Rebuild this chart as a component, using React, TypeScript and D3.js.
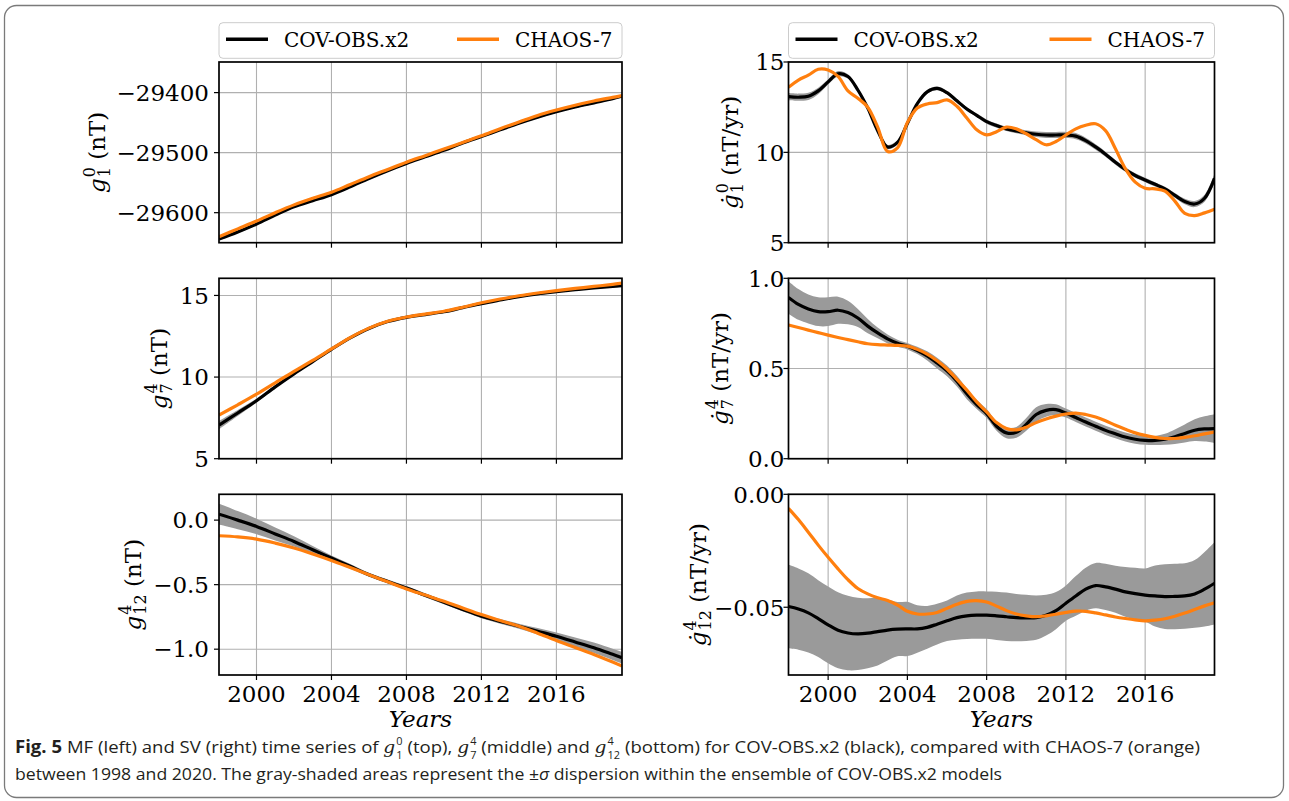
import React from "react";
import * as d3 from "d3";

// ---------- data ----------
const yearsA = [1998, 1999, 2000, 2001, 2002, 2003, 2004, 2005, 2006, 2007, 2008, 2009, 2010, 2011, 2012, 2013, 2014, 2015, 2016, 2017, 2018, 2019, 2019.5];
const yearsB = [
  1998, 1998.5, 1999, 1999.5, 2000, 2000.5, 2001, 2001.5, 2002, 2002.5, 2003, 2003.5,
  2004, 2004.5, 2005, 2005.5, 2006, 2006.5, 2007, 2007.5, 2008, 2008.5, 2009, 2009.5,
  2010, 2010.5, 2011, 2011.5, 2012, 2012.5, 2013, 2013.5, 2014, 2014.5, 2015, 2015.5,
  2016, 2016.5, 2017, 2017.5, 2018, 2018.5, 2019, 2019.5,
];

// MF g10 (nT)
const mf10Cov = [-29644, -29632, -29619, -29604, -29590, -29580, -29570, -29557, -29543, -29530, -29518, -29507, -29496, -29484, -29473, -29462, -29451, -29441, -29432, -29424, -29417, -29410, -29406];
const mf10Sd = [2.2, 2, 1.8, 1.6, 1.5, 1.5, 1.5, 1.5, 1.5, 1.5, 1.5, 1.5, 1.5, 1.5, 1.5, 1.5, 1.5, 1.5, 1.5, 1.6, 1.8, 2, 2.2];
const mf10Chaos = [-29640, -29627, -29614, -29600, -29587, -29576, -29566, -29553, -29540, -29528, -29516, -29505, -29494, -29483, -29472, -29460, -29449, -29438, -29429, -29421, -29414, -29408, -29405];

// MF g74 (nT)
const mf74Cov = [7.06, 7.8, 8.55, 9.4, 10.2, 10.95, 11.7, 12.4, 12.98, 13.4, 13.66, 13.83, 14.0, 14.25, 14.5, 14.72, 14.93, 15.1, 15.23, 15.35, 15.46, 15.55, 15.6];
const mf74Sd = [0.25, 0.18, 0.12, 0.08, 0.06, 0.05, 0.05, 0.05, 0.05, 0.05, 0.05, 0.05, 0.05, 0.05, 0.05, 0.05, 0.05, 0.05, 0.05, 0.05, 0.05, 0.06, 0.06];
const mf74Chaos = [7.67, 8.3, 8.95, 9.65, 10.35, 11.02, 11.72, 12.42, 13.0, 13.42, 13.68, 13.86, 14.03, 14.28, 14.55, 14.78, 14.98, 15.15, 15.3, 15.43, 15.55, 15.68, 15.75];

// MF g12,4 (nT)
const mf124Cov = [0.046, 0.0, -0.049, -0.107, -0.165, -0.23, -0.294, -0.358, -0.423, -0.476, -0.526, -0.582, -0.637, -0.692, -0.745, -0.785, -0.822, -0.861, -0.9, -0.944, -0.989, -1.04, -1.066];
const mf124Sd = [0.08, 0.07, 0.06, 0.05, 0.04, 0.03, 0.02, 0.018, 0.015, 0.015, 0.015, 0.015, 0.015, 0.015, 0.016, 0.018, 0.02, 0.025, 0.03, 0.035, 0.04, 0.043, 0.045];
const mf124Chaos = [-0.121, -0.13, -0.147, -0.178, -0.216, -0.262, -0.312, -0.367, -0.423, -0.478, -0.533, -0.581, -0.629, -0.681, -0.732, -0.778, -0.822, -0.876, -0.933, -0.987, -1.041, -1.1, -1.131];

// SV g10 (nT/yr)
const sv10Cov = [
  13.08, 13.05, 13.1, 13.4, 13.9, 14.35, 14.2, 13.45, 12.45, 11.2, 10.3, 10.55,
  11.6, 12.7, 13.35, 13.54, 13.3, 12.85, 12.4, 12.05, 11.7, 11.48, 11.3, 11.18,
  11.08, 11.0, 10.96, 10.96, 10.96, 10.9, 10.65, 10.3, 9.9, 9.45, 9.05, 8.72,
  8.47, 8.23, 7.98, 7.62, 7.28, 7.14, 7.46, 8.56,
];
const sv10Sd = [
  0.2, 0.2, 0.2, 0.18, 0.15, 0.15, 0.12, 0.12, 0.12, 0.12, 0.12, 0.12,
  0.1, 0.1, 0.1, 0.1, 0.1, 0.1, 0.1, 0.1, 0.12, 0.12, 0.12, 0.12,
  0.14, 0.15, 0.16, 0.17, 0.17, 0.17, 0.16, 0.15, 0.14, 0.13, 0.12, 0.12,
  0.12, 0.12, 0.12, 0.13, 0.15, 0.17, 0.2, 0.26,
];
const sv10Chaos = [
  13.6, 14.0, 14.27, 14.6, 14.56, 14.2, 13.4, 13.0, 12.5, 11.4, 10.05, 10.25,
  11.65, 12.45, 12.68, 12.75, 12.9, 12.55, 11.9, 11.25, 10.97, 11.14, 11.4, 11.3,
  11.03, 10.7, 10.42, 10.6, 10.96, 11.3, 11.5, 11.58, 11.2, 10.2, 9.1, 8.35,
  8.01, 7.98, 7.85, 7.3, 6.62, 6.5, 6.65, 6.85,
];

// SV g74 (nT/yr)
const sv74Cov = [
  0.894, 0.855, 0.83, 0.815, 0.815, 0.823, 0.81, 0.78, 0.735, 0.697, 0.664, 0.64,
  0.624, 0.6, 0.57, 0.53, 0.487, 0.43, 0.36, 0.3, 0.25, 0.18, 0.143, 0.146,
  0.19, 0.245, 0.268, 0.272, 0.253, 0.228, 0.203, 0.18, 0.157, 0.138, 0.12, 0.108,
  0.102, 0.101, 0.108, 0.122, 0.14, 0.158, 0.165, 0.167,
];
const sv74Sd = [
  0.09, 0.085, 0.08, 0.08, 0.08, 0.075, 0.065, 0.05, 0.04, 0.03, 0.025, 0.02,
  0.018, 0.02, 0.025, 0.03, 0.03, 0.03, 0.03, 0.025, 0.025, 0.025, 0.03, 0.03,
  0.035, 0.04, 0.035, 0.03, 0.025, 0.025, 0.025, 0.025, 0.025, 0.025, 0.025, 0.025,
  0.025, 0.025, 0.03, 0.04, 0.05, 0.06, 0.07, 0.08,
];
const sv74Chaos = [
  0.741, 0.727, 0.713, 0.699, 0.685, 0.672, 0.66, 0.648, 0.637, 0.632, 0.63, 0.628,
  0.624, 0.606, 0.58, 0.543, 0.497, 0.44, 0.38, 0.315, 0.259, 0.2, 0.168, 0.16,
  0.175, 0.2, 0.22, 0.236, 0.248, 0.253, 0.245, 0.231, 0.21, 0.185, 0.163, 0.143,
  0.129, 0.118, 0.112, 0.112, 0.118, 0.127, 0.138, 0.148,
];

// SV g12,4 (nT/yr)
const sv124Cov = [
  -0.0497, -0.0508, -0.0525, -0.055, -0.0578, -0.0602, -0.0614, -0.0618, -0.0615, -0.0608, -0.0601, -0.0597,
  -0.0596, -0.0596, -0.0589, -0.0575, -0.056, -0.0546, -0.0538, -0.0535, -0.0535, -0.0538, -0.0542, -0.0546,
  -0.0547, -0.0546, -0.0535, -0.0515, -0.0482, -0.045, -0.042, -0.0404, -0.041, -0.042, -0.0432, -0.044,
  -0.0446, -0.045, -0.0453, -0.0452, -0.045, -0.0441, -0.042, -0.0394,
];
const sv124Sd = [
  0.0185, 0.018, 0.0175, 0.017, 0.017, 0.0168, 0.0165, 0.016, 0.0155, 0.015, 0.0135, 0.012,
  0.012, 0.0105, 0.0095, 0.009, 0.009, 0.0098, 0.0103, 0.0105, 0.0105, 0.0107, 0.0107, 0.0105,
  0.0102, 0.0098, 0.009, 0.0082, 0.0078, 0.0088, 0.0095, 0.01, 0.0102, 0.0104, 0.011, 0.0115,
  0.0118, 0.0135, 0.0143, 0.0145, 0.0145, 0.015, 0.0165, 0.0182,
];
const sv124Chaos = [
  -0.0062, -0.0112, -0.0168, -0.0225, -0.0279, -0.033, -0.0378, -0.0417, -0.0441, -0.0458, -0.047, -0.049,
  -0.0518, -0.053, -0.053, -0.0523, -0.0505, -0.0487, -0.0474, -0.0471, -0.0477, -0.0495, -0.0515, -0.053,
  -0.0538, -0.0542, -0.0538, -0.0531, -0.0523, -0.0517, -0.0518, -0.0525, -0.0534, -0.0543, -0.055, -0.0556,
  -0.056, -0.0557, -0.0551, -0.054, -0.0526, -0.051, -0.0494, -0.048,
];

const xTicks = [2000, 2004, 2008, 2012, 2016];
const xTickLabels = ["2000", "2004", "2008", "2012", "2016"];
const xDomain: [number, number] = [1998, 2019.5];
const legendLabels = ["COV-OBS.x2", "CHAOS-7"];
const seriesColors = ["#000000", "#ff7f0e"];

// ---------- drawing ----------
const SERIF = "'DejaVu Serif', serif";
const SANS = "'Open Sans', 'Noto Sans', sans-serif";
const TICK_FS = 23;

const minus = (s: string) => s.replace("-", "\u2212");

type PanelDef = {
  id: string;
  x0: number; x1: number; y0: number; y1: number;
  years: number[]; cov: number[]; sd: number[]; chaos: number[];
  yDomain: [number, number]; yTicks: number[]; yFmt: (v: number) => string;
  showX: boolean; labelGap: number;
  label: { x: number; base: string; sup: string; sub: string; unit: string };
};

function YLabel({ x, y, base, sup, sub, unit }: { x: number; y: number; base: string; sup: string; sub: string; unit: string }) {
  const small = 16;
  const supW = sup.length * 0.636 * small;
  return (
    <text transform={`translate(${x},${y}) rotate(-90)`} textAnchor="middle" fontFamily={SERIF} fontSize={23} fill="#000" style={{ whiteSpace: "pre" }}>
      <tspan fontStyle="italic">{base}</tspan>
      <tspan fontSize={small} dx={1} dy={-10}>{sup}</tspan>
      <tspan fontSize={small} dx={-supW} dy={15}>{sub}</tspan>
      <tspan dy={-5}>{" (" + unit + ")"}</tspan>
    </text>
  );
}

function Panel({ p }: { p: PanelDef }) {
  const x = d3.scaleLinear().domain(xDomain).range([p.x0, p.x1]);
  const y = d3.scaleLinear().domain(p.yDomain).range([p.y1, p.y0]);
  const data = p.years.map((t, i) => ({ t, m: p.cov[i], s: p.sd[i], c: p.chaos[i] }));
  type D = (typeof data)[number];
  const curve = d3.curveCatmullRom.alpha(0.5);
  const area = d3.area<D>().x((d) => x(d.t)).y0((d) => y(d.m - d.s)).y1((d) => y(d.m + d.s)).curve(curve);
  const lineM = d3.line<D>().x((d) => x(d.t)).y((d) => y(d.m)).curve(curve);
  const lineC = d3.line<D>().x((d) => x(d.t)).y((d) => y(d.c)).curve(curve);
  const clip = `clip-${p.id}`;
  const tickLen = 5;
  return (
    <g>
      <defs>
        <clipPath id={clip}>
          <rect x={p.x0} y={p.y0} width={p.x1 - p.x0} height={p.y1 - p.y0} />
        </clipPath>
      </defs>
      {xTicks.map((t) => (
        <line key={"gx" + t} x1={x(t)} x2={x(t)} y1={p.y0} y2={p.y1} stroke="#b0b0b0" strokeWidth={1.1} />
      ))}
      {p.yTicks.map((t) => (
        <line key={"gy" + t} x1={p.x0} x2={p.x1} y1={y(t)} y2={y(t)} stroke="#b0b0b0" strokeWidth={1.1} />
      ))}
      <g clipPath={`url(#${clip})`}>
        <path d={area(data) || ""} fill="#9a9a9a" stroke="none" />
        <path d={lineM(data) || ""} fill="none" stroke={seriesColors[0]} strokeWidth={3.2} strokeLinejoin="round" />
        <path d={lineC(data) || ""} fill="none" stroke={seriesColors[1]} strokeWidth={3.2} strokeLinejoin="round" />
      </g>
      <rect x={p.x0} y={p.y0} width={p.x1 - p.x0} height={p.y1 - p.y0} fill="none" stroke="#000" strokeWidth={1.7} />
      {xTicks.map((t) => (
        <line key={"tx" + t} x1={x(t)} x2={x(t)} y1={p.y1} y2={p.y1 + tickLen} stroke="#000" strokeWidth={1.2} />
      ))}
      {p.showX &&
        xTicks.map((t, i) => (
          <text key={"lx" + t} x={x(t)} y={p.y1 + 26.5} textAnchor="middle" fontFamily={SERIF} fontSize={TICK_FS} fill="#000">
            {xTickLabels[i]}
          </text>
        ))}
      {p.showX && (
        <text x={(p.x0 + p.x1) / 2} y={p.y1 + 52} textAnchor="middle" fontFamily={SERIF} fontStyle="italic" fontSize={TICK_FS} fill="#000">
          Years
        </text>
      )}
      {p.yTicks.map((t) => (
        <g key={"ty" + t}>
          <line x1={p.x0 - tickLen} x2={p.x0} y1={y(t)} y2={y(t)} stroke="#000" strokeWidth={1.2} />
          <text x={p.x0 - p.labelGap} y={y(t) + 8.3} textAnchor="end" fontFamily={SERIF} fontSize={TICK_FS} fill="#000">
            {p.yFmt(t)}
          </text>
        </g>
      ))}
      <YLabel x={p.label.x} y={(p.y0 + p.y1) / 2} base={p.label.base} sup={p.label.sup} sub={p.label.sub} unit={p.label.unit} />
    </g>
  );
}

function Legend({ x0, x1 }: { x0: number; x1: number }) {
  const y0 = 22.7, y1 = 58.3;
  const ym = 39.3;
  const w = x1 - x0;
  const offs = [7, w - 165];
  return (
    <g>
      <rect x={x0} y={y0} width={w} height={y1 - y0} rx={4} fill="#fff" stroke="#cccccc" strokeWidth={1} />
      {legendLabels.map((lab, i) => (
        <g key={lab}>
          <line x1={x0 + offs[i]} x2={x0 + offs[i] + 42} y1={ym} y2={ym} stroke={seriesColors[i]} strokeWidth={3.6} />
          <text x={x0 + offs[i] + 58} y={46.5} fontFamily={SERIF} fontSize={20} fill="#000">
            {lab}
          </text>
        </g>
      ))}
    </g>
  );
}

const LX0 = 219, LX1 = 622, RX0 = 788.5, RX1 = 1214.5;
const ROWS: [number, number][] = [
  [62, 242.7],
  [278.3, 458.7],
  [494.3, 675],
];

const fmtInt = (v: number) => minus(d3.format("d")(v));
const fmt1 = (v: number) => minus(d3.format(".1f")(v));
const fmt2 = (v: number) => minus(d3.format(".2f")(v));

const panels: PanelDef[] = [
  {
    id: "tl", x0: LX0, x1: LX1, y0: ROWS[0][0], y1: ROWS[0][1],
    years: yearsA, cov: mf10Cov, sd: mf10Sd, chaos: mf10Chaos,
    yDomain: [-29650, -29349], yTicks: [-29600, -29500, -29400], yFmt: fmtInt, showX: false, labelGap: 10,
    label: { x: 105, base: "g", sup: "0", sub: "1", unit: "nT" },
  },
  {
    id: "ml", x0: LX0, x1: LX1, y0: ROWS[1][0], y1: ROWS[1][1],
    years: yearsA, cov: mf74Cov, sd: mf74Sd, chaos: mf74Chaos,
    yDomain: [5, 16.05], yTicks: [5, 10, 15], yFmt: fmtInt, showX: false, labelGap: 10,
    label: { x: 167, base: "g", sup: "4", sub: "7", unit: "nT" },
  },
  {
    id: "bl", x0: LX0, x1: LX1, y0: ROWS[2][0], y1: ROWS[2][1],
    years: yearsA, cov: mf124Cov, sd: mf124Sd, chaos: mf124Chaos,
    yDomain: [-1.2, 0.2], yTicks: [-1.0, -0.5, 0.0], yFmt: fmt1, showX: true, labelGap: 10,
    label: { x: 141, base: "g", sup: "4", sub: "12", unit: "nT" },
  },
  {
    id: "tr", x0: RX0, x1: RX1, y0: ROWS[0][0], y1: ROWS[0][1],
    years: yearsB, cov: sv10Cov, sd: sv10Sd, chaos: sv10Chaos,
    yDomain: [5, 15], yTicks: [5, 10, 15], yFmt: fmtInt, showX: false, labelGap: 4,
    label: { x: 738, base: "\u0121", sup: "0", sub: "1", unit: "nT/yr" },
  },
  {
    id: "mr", x0: RX0, x1: RX1, y0: ROWS[1][0], y1: ROWS[1][1],
    years: yearsB, cov: sv74Cov, sd: sv74Sd, chaos: sv74Chaos,
    yDomain: [0, 1], yTicks: [0, 0.5, 1.0], yFmt: fmt1, showX: false, labelGap: 4,
    label: { x: 728, base: "\u0121", sup: "4", sub: "7", unit: "nT/yr" },
  },
  {
    id: "br", x0: RX0, x1: RX1, y0: ROWS[2][0], y1: ROWS[2][1],
    years: yearsB, cov: sv124Cov, sd: sv124Sd, chaos: sv124Chaos,
    yDomain: [-0.08, 0], yTicks: [-0.05, 0.0], yFmt: fmt2, showX: true, labelGap: 4,
    label: { x: 706, base: "\u0121", sup: "4", sub: "12", unit: "nT/yr" },
  },
];

function Caption() {
  const fs = 17;
  const sm = 10;
  const M = ({ sup, sub }: { sup: string; sub: string }) => (
    <>
      <tspan fontStyle="italic" fontFamily={SERIF}>g</tspan>
      <tspan fontSize={sm} dx={1} dy={-8.5}>{sup}</tspan>
      <tspan fontSize={sm} dx={-sup.length * 0.57 * sm} dy={14}>{sub}</tspan>
      <tspan dy={-5.5}>{" "}</tspan>
    </>
  );
  return (
    <g fontFamily={SANS} fontSize={fs} fill="#231f20" style={{ whiteSpace: "pre" }}>
      <text x={15} y={753} textLength={1185} lengthAdjust="spacingAndGlyphs">
        <tspan fontWeight={700}>Fig. 5</tspan>
        <tspan>{"  MF (left) and SV (right) time series of "}</tspan>
        <M sup="0" sub="1" />
        <tspan>{"(top), "}</tspan>
        <M sup="4" sub="7" />
        <tspan>{"(middle) and "}</tspan>
        <M sup="4" sub="12" />
        <tspan>{"(bottom) for COV-OBS.x2 (black), compared with CHAOS-7 (orange)"}</tspan>
      </text>
      <text x={15} y={780} textLength={987} lengthAdjust="spacingAndGlyphs">
        <tspan>{"between 1998 and 2020. The gray-shaded areas represent the \u00b1"}</tspan>
        <tspan fontStyle="italic">{"\u03c3"}</tspan>
        <tspan>{" dispersion within the ensemble of COV-OBS.x2 models"}</tspan>
      </text>
    </g>
  );
}

export default function App() {
  return (
    <svg width={1289} height={801} viewBox="0 0 1289 801" style={{ position: "absolute", left: 0, top: 0, background: "#fff" }}>
      <rect x={0} y={0} width={1289} height={801} fill="#fff" />
      <rect x={4.5} y={5.5} width={1279} height={792} rx={12} fill="none" stroke="#7a7a7a" strokeWidth={1.3} />
      <Legend x0={LX0} x1={LX1} />
      <Legend x0={RX0} x1={RX1} />
      {panels.map((p) => (
        <Panel key={p.id} p={p} />
      ))}
      <Caption />
    </svg>
  );
}
